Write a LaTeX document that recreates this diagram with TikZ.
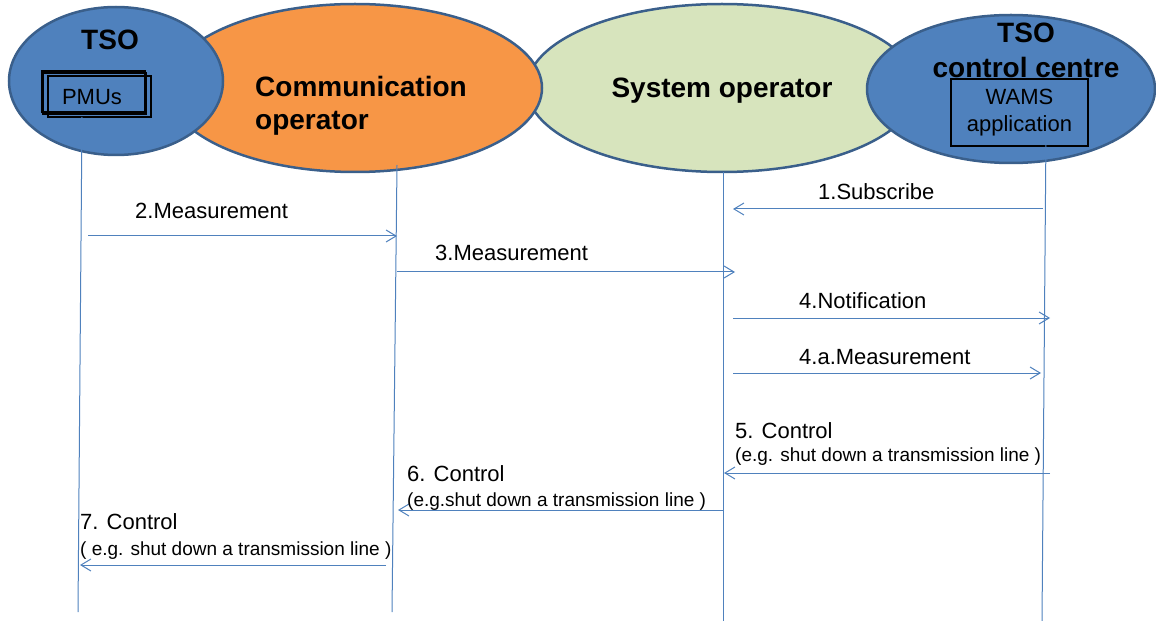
\documentclass[tikz,border=0pt]{standalone}
\usepackage{fontspec}
\setmainfont{Liberation Sans}
\usetikzlibrary{shapes.geometric,arrows.meta}
\definecolor{tsoblue}{HTML}{4F81BD}
\definecolor{rimblue}{HTML}{3A5F8B}
\definecolor{commorange}{HTML}{F79646}
\definecolor{sysgreen}{HTML}{D7E4BD}
\tikzset{
  party/.style={ellipse, draw=rimblue, line width=2.5bp, inner sep=0},
  title/.style={font=\fontsize{28bp}{33bp}\selectfont\bfseries, inner sep=0},
  msg/.style={font=\fontsize{22bp}{26bp}\selectfont, inner sep=0, anchor=base west},
  note/.style={font=\fontsize{19bp}{22bp}\selectfont, inner sep=0, anchor=base west},
  life/.style={draw=tsoblue, line width=1bp},
}
\begin{document}
\begin{tikzpicture}[x=1bp, y=-1bp, >={Straight Barb[length=10bp,width=12bp]}]
        \useasboundingbox (0,0) rectangle (1156,621);
        % the four parties
        \node[party, fill=sysgreen, minimum width=390bp, minimum height=168bp] (sysop) at (722,88) {};
        \node[party, fill=commorange, minimum width=374bp, minimum height=168bp] (comm) at (355,88) {};
        \node[party, fill=tsoblue, minimum width=214bp, minimum height=148bp] (tso) at (116,81) {};
        \node[party, fill=tsoblue, minimum width=288bp, minimum height=148bp] (tsocc) at (1011,89) {};
        \node[title, anchor=base] (tsoname) at (110,50) {TSO};
        \node[title, anchor=base west] (commname) at (255,97) {Communication};
        \node[title, anchor=base west] (commname2) at (255,130) {operator};
        \node[title, anchor=base] (sysopname) at (722,98) {System operator};
        \node[title, anchor=base] (tsoccname) at (1026,43) {TSO};
        \node[title, anchor=base] (tsoccname2) at (1026,78) {control centre};
        % PMUs and WAMS boxes
        \foreach \dx/\dy in {0/0,1/2,6/5}
        {
            \draw[line width=1.5bp] (42+\dx,71+\dy) rectangle (143+\dx+2,112+\dy);
        }
        \node[msg, anchor=center] (pmus) at (92,97) {PMUs};
        \node[draw, line width=1.5bp, minimum width=137bp, minimum height=67bp, align=center,
              font=\fontsize{22bp}{27bp}\selectfont] (wams) at (1019.5,112.5) {WAMS\\application};
        % life lines
        \coordinate (tso top) at (82,117);     \coordinate (tso bot) at (78,612);
        \coordinate (comm top) at (397,165);   \coordinate (comm bot) at (392,612);
        \coordinate (sysop top) at (723,172);  \coordinate (sysop bot) at (723,621);
        \coordinate (tsocc top) at (1046,132); \coordinate (tsocc bot) at (1042,621);
        \foreach \p in {tso,comm,sysop,tsocc}
        {
            \draw[life] (\p\space top)--(\p\space bot);
        }
        % messages
        \foreach \n/\xa/\xb/\y in {1/1043/733/209, 2/88/397/236, 3/397/735/272, 4/733/1050/318,
                                   4a/733/1041/373, 5/1050/724/473, 6/723/398/510, 7/386/80/565}
        {
            \coordinate (m\n a) at (\xa,\y);
            \coordinate (m\n b) at (\xb,\y);
            \draw[life, ->] (m\n a)--(m\n b);
        }
        \node[msg] (l1) at (818,200) {1.Subscribe};
        \node[msg] (l2) at (135,219) {2.Measurement};
        \node[msg] (l3) at (435,261) {3.Measurement};
        \node[msg] (l4) at (799,309) {4.Notification};
        \node[msg] (l4a) at (799,364) {4.a.Measurement};
        \node[msg] (l5) at (735,438) {5. Control};
        \node[note] (n5) at (735,461) {(e.g. shut down a transmission line )};
        \node[msg] (l6) at (407,481) {6. Control};
        \node[note] (n6) at (407,506) {(e.g.shut down a transmission line )};
        \node[msg] (l7) at (80,529) {7. Control};
        \node[note] (n7) at (80,555) {( e.g. shut down a transmission line )};
\end{tikzpicture}
\end{document}
